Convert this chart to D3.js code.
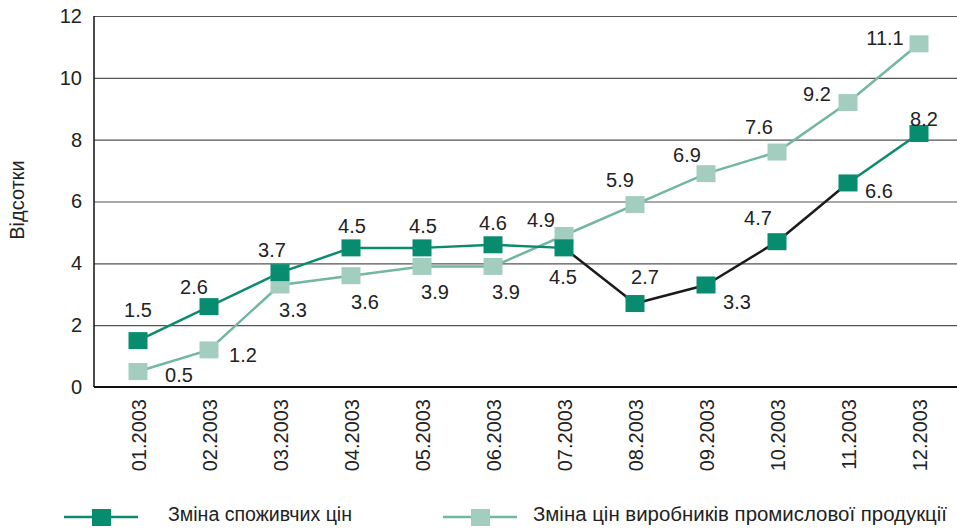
<!DOCTYPE html>
<html>
<head>
<meta charset="utf-8">
<script src="https://cdn.jsdelivr.net/npm/d3@7"></script>
<style>
  body { margin: 0; background: #fff; }
  svg { display: block; font-family: "Liberation Sans", Arial, sans-serif; }
</style>
</head>
<body>
<svg id="chart" width="957" height="530"></svg>
<script>
// data
const months = ['01.2003', '02.2003', '03.2003', '04.2003', '05.2003', '06.2003',
                '07.2003', '08.2003', '09.2003', '10.2003', '11.2003', '12.2003'];
const consumer = [1.5, 2.6, 3.7, 4.5, 4.5, 4.6, 4.5, 2.7, 3.3, 4.7, 6.6, 8.2];
const producer = [0.5, 1.2, 3.3, 3.6, 3.9, 3.9, 4.9, 5.9, 6.9, 7.6, 9.2, 11.1];
const yTicks = [0, 2, 4, 6, 8, 10, 12];
const seriesNames = ['Зміна споживчих цін', 'Зміна цін виробників промислової продукції'];
const yTitle = 'Відсотки';

const darkFill = '#078c6f', darkLine = '#0b8a6d';
const lightFill = '#a2cdbf', lightLine = '#72b7a1';

var svg = d3.select('#chart');

var x = d3.scalePoint()
    .domain(months)
    .range([138, 919]);

var y = d3.scaleLinear()
    .domain([0, 12])
    .range([387, 16]);

// gridlines + y axis
var yaxis = d3.axisLeft(y)
    .tickValues(yTicks)
    .tickSize(-(957 - 94))
    .tickPadding(12)
    .tickFormat(d3.format('d'));

var gy = svg.append('g')
    .attr('transform', 'translate(94,0)')
    .call(yaxis);
gy.select('.domain').remove();
gy.selectAll('.tick line').attr('stroke', '#555').attr('stroke-width', 1.2);
gy.selectAll('.tick text').attr('font-size', 20).attr('fill', '#222')
    .attr('font-family', '"Liberation Sans", Arial, sans-serif');

// axis lines
svg.append('line').attr('x1', 94).attr('x2', 94).attr('y1', y(12)).attr('y2', y(0))
    .attr('stroke', '#111').attr('stroke-width', 1.5);
svg.append('line').attr('x1', 94).attr('x2', 957).attr('y1', y(0)).attr('y2', y(0))
    .attr('stroke', '#111').attr('stroke-width', 1.8);

// x labels, rotated
var xaxis = d3.axisBottom(x).tickSize(0).tickPadding(0);
var gx = svg.append('g')
    .attr('transform', 'translate(0,' + y(0) + ')')
    .call(xaxis);
gx.select('.domain').remove();
gx.selectAll('.tick text')
    .attr('font-size', 20)
    .attr('fill', '#222')
    .attr('font-family', '"Liberation Sans", Arial, sans-serif')
    .attr('transform', 'rotate(-90)')
    .attr('text-anchor', 'end')
    .attr('x', -12)
    .attr('y', 0)
    .attr('dy', '0.35em');

// y title
svg.append('text')
    .attr('transform', 'translate(24,200) rotate(-90)')
    .attr('text-anchor', 'middle')
    .attr('font-size', 20)
    .attr('fill', '#222')
    .text(yTitle);

var line = d3.line()
    .x(function (d, i) { return x(months[i]); })
    .y(function (d) { return y(d); });

// producer series (under)
svg.append('path').datum(producer)
    .attr('d', line).attr('fill', 'none')
    .attr('stroke', lightLine).attr('stroke-width', 2.5);

// consumer series: segments 07..11 drawn black
consumer.forEach(function (v, i) {
    if (i == 0) return;
    svg.append('line')
        .attr('x1', x(months[i - 1])).attr('y1', y(consumer[i - 1]))
        .attr('x2', x(months[i])).attr('y2', y(v))
        .attr('stroke', (i >= 7 && i <= 10) ? '#1a1a1a' : darkLine)
        .attr('stroke-width', 2.5);
});

var sq = 19;
svg.selectAll('rect.prod')
    .data(producer)
    .enter().append('rect')
    .attr('class', 'prod')
    .attr('x', function (d, i) { return x(months[i]) - sq / 2; })
    .attr('y', function (d) { return y(d) - sq / 2 + 1; })
    .attr('width', sq).attr('height', sq - 2)
    .attr('fill', lightFill);

svg.selectAll('rect.cons')
    .data(consumer)
    .enter().append('rect')
    .attr('class', 'cons')
    .attr('x', function (d, i) { return x(months[i]) - sq / 2; })
    .attr('y', function (d) { return y(d) - sq / 2 + 1; })
    .attr('width', sq).attr('height', sq - 2)
    .attr('fill', darkFill);

// label offsets from each marker (centre of text)
var consOff = [[0, -31], [-15, -20], [-8, -23], [1, -22], [1, -22], [0, -22],
               [-1, 29], [10, -27], [31, 17], [-19, -24], [31, 8], [5, -15]];
var prodOff = [[41, 3], [34, 5], [13, 25], [14, 26], [13, 25], [13, 25],
               [-23, -16], [-15, -25], [-19, -19], [-18, -25], [-31, -9], [-34, -6]];

function labels(data, off, cls) {
    svg.selectAll('text.' + cls)
        .data(data)
        .enter().append('text')
        .attr('class', cls)
        .attr('x', function (d, i) { return x(months[i]) + off[i][0]; })
        .attr('y', function (d, i) { return y(d) + off[i][1]; })
        .attr('dy', '0.36em')
        .attr('text-anchor', 'middle')
        .attr('font-size', 20)
        .attr('fill', '#222')
        .text(function (d) { return d3.format('.1f')(d); });
}
labels(consumer, consOff, 'lc');
labels(producer, prodOff, 'lp');

// legend
var legend = [
    { name: seriesNames[0], x0: 64, fill: darkFill, stroke: darkLine, tx: 168, len: 184 },
    { name: seriesNames[1], x0: 443, fill: lightFill, stroke: lightLine, tx: 533, len: 414 }
];
legend.forEach(function (l) {
    var g = svg.append('g');
    g.append('line').attr('x1', l.x0).attr('x2', l.x0 + 74).attr('y1', 517).attr('y2', 517)
        .attr('stroke', l.stroke).attr('stroke-width', 2.5);
    g.append('rect').attr('x', l.x0 + 28).attr('y', 509).attr('width', 19).attr('height', 17)
        .attr('fill', l.fill);
    g.append('text').attr('x', l.tx).attr('y', 521)
        .attr('font-size', 20)
        .attr('font-family', '"Liberation Sans Narrow", "Liberation Sans", Arial, sans-serif')
        .attr('fill', '#222')
        .attr('textLength', l.len)
        .attr('lengthAdjust', 'spacingAndGlyphs')
        .text(l.name);
});
</script>
</body>
</html>
